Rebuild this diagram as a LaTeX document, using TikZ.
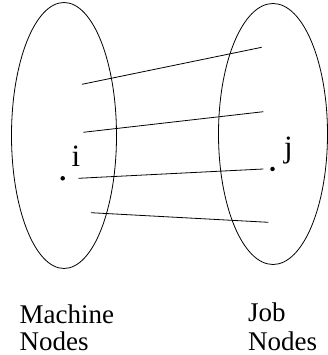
\documentclass[tikz,border=0pt]{standalone}
\usepackage{fontspec}
\setmainfont{Liberation Serif}
\begin{document}
\begin{tikzpicture}[x=1pt,y=-1pt,
  setell/.style={draw,line width=0.8pt},
  edgeline/.style={draw,line width=0.8pt},
  dotnode/.style={circle,fill,inner sep=0pt,minimum size=4.5pt},
  labtext/.style={font=\fontsize{31}{33}\selectfont,inner sep=0pt},
  captext/.style={font=\fontsize{27}{29}\selectfont,inner sep=0pt}]
\useasboundingbox (0,0) rectangle (327,355);
\draw[setell] (64,135.5) ellipse [x radius=52.5, y radius=133];
\draw[setell] (273,134) ellipse [x radius=54.5, y radius=130.5];
\coordinate (a1) at (82,84.3);   \coordinate (b1) at (261.7,47.3);
\coordinate (a2) at (83.3,132.3); \coordinate (b2) at (263.3,111.7);
\coordinate (a3) at (78.3,178.3); \coordinate (b3) at (263.3,169);
\coordinate (a4) at (91,212.7);  \coordinate (b4) at (268.3,222.3);
\draw[edgeline] (a1) -- (b1);
\draw[edgeline] (a2) -- (b2);
\draw[edgeline] (a3) -- (b3);
\draw[edgeline] (a4) -- (b4);
\node[dotnode] (ni) at (62.7,178.3) {};
\node[dotnode] (nj) at (272.5,169) {};
\node[labtext,anchor=base west] (li) at (71.5,166.7) {i};
\node[labtext,anchor=base west] (lj) at (284,158) {j};
\node[captext,anchor=base west] (mn) at (19.5,323.3) {Machine};
\node[captext,anchor=base west] (mn2) at (19.5,350) {Nodes};
\node[captext,anchor=base west] (jn) at (248,321.5) {Job};
\node[captext,anchor=base west] (jn2) at (248,350) {Nodes};
\end{tikzpicture}
\end{document}
